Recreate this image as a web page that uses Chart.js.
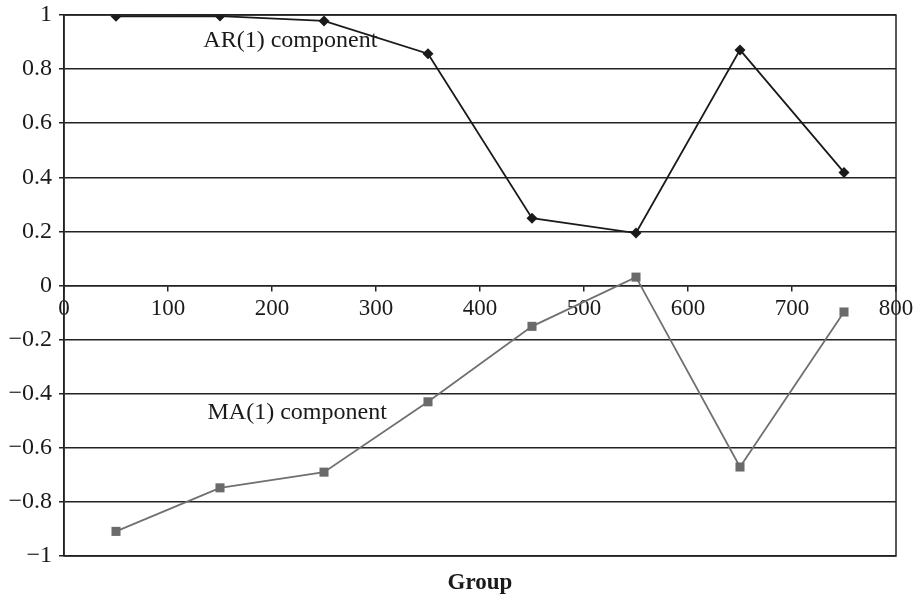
<!DOCTYPE html>
<html>
<head>
<meta charset="utf-8">
<script src="https://cdn.jsdelivr.net/npm/chart.js@4/dist/chart.umd.min.js"></script>
<style>
  html, body { margin: 0; padding: 0; background: #fff; }
  #wrap { width: 920px; height: 596px; }
</style>
</head>
<body>
<div id="wrap"><canvas id="c" width="920" height="596"></canvas></div>
<script>
// Group midpoints on the x axis
const groups = [50, 150, 250, 350, 450, 550, 650, 750];
// Estimated AR(1) and MA(1) components per group
const arComponent = [0.995, 0.996, 0.978, 0.857, 0.249, 0.194, 0.871, 0.418];
const maComponent = [-0.909, -0.748, -0.690, -0.430, -0.151, 0.031, -0.671, -0.098];

const xTickLabels = ['0', '100', '200', '300', '400', '500', '600', '700', '800'];
const yTickLabels = ['\u22121', '\u22120.8', '\u22120.6', '\u22120.4', '\u22120.2', '0', '0.2', '0.4', '0.6', '0.8', '1'];

// In-plot series labels: [text, x value, y value]
const seriesNotes = [
  ['AR(1) component', 134, 0.905],
  ['MA(1) component', 138, -0.47]
];
const xTitle = 'Group';

const FONT = '"Liberation Serif", "Times New Roman", serif';

const toPoints = (xs, ys) => xs.map((x, i) => ({ x: x, y: ys[i] }));

const frameAndNotes = {
  id: 'frameAndNotes',
  afterDraw(chart) {
    const { ctx, chartArea: a, scales } = chart;
    ctx.save();
    ctx.strokeStyle = '#222';
    ctx.lineWidth = 1.5;
    ctx.strokeRect(a.left, a.top, a.right - a.left, a.bottom - a.top);

    ctx.fillStyle = '#1a1a1a';
    ctx.font = '24px ' + FONT;
    ctx.textAlign = 'left';
    ctx.textBaseline = 'middle';
    seriesNotes.forEach(([t, xv, yv]) => {
      ctx.fillText(t, scales.x.getPixelForValue(xv), scales.y.getPixelForValue(yv));
    });

    ctx.font = 'bold 23px ' + FONT;
    ctx.textAlign = 'center';
    ctx.fillText(xTitle, (a.left + a.right) / 2, a.bottom + 27);
    ctx.restore();
  }
};

new Chart(document.getElementById('c'), {
  type: 'scatter',
  data: {
    datasets: [
      {
        label: 'AR(1) component',
        data: toPoints(groups, arComponent),
        showLine: true,
        borderColor: '#1a1a1a',
        backgroundColor: '#1a1a1a',
        borderWidth: 1.8,
        pointStyle: 'rectRot',
        pointRadius: 5.5,
        pointBorderWidth: 0
      },
      {
        label: 'MA(1) component',
        data: toPoints(groups, maComponent),
        showLine: true,
        borderColor: '#707070',
        backgroundColor: '#6a6a6a',
        borderWidth: 1.8,
        pointStyle: 'rect',
        pointRadius: 6.4,
        pointBorderWidth: 0
      }
    ]
  },
  options: {
    responsive: false,
    animation: false,
    devicePixelRatio: 1,
    layout: { padding: { left: 0, top: 15, right: 24, bottom: 40 } },
    plugins: {
      legend: { display: false },
      tooltip: { enabled: false }
    },
    scales: {
      x: {
        type: 'linear',
        min: 0,
        max: 800,
        position: { y: 0 },
        afterFit(scale) { scale.paddingLeft = 0; scale.paddingRight = 0; },
        ticks: {
          stepSize: 100,
          color: '#1a1a1a',
          font: { family: FONT, size: 23 },
          padding: 5,
          maxRotation: 0,
          callback: (v, i) => xTickLabels[i]
        },
        grid: {
          drawOnChartArea: false,
          drawTicks: true,
          tickLength: 5,
          color: '#222',
          lineWidth: 1.5
        },
        border: { display: true, color: '#222', width: 1.5 }
      },
      y: {
        type: 'linear',
        min: -1,
        max: 1,
        afterFit(scale) {
          scale.width = 64;
          scale.paddingTop = 0;
          scale.paddingBottom = 0;
        },
        ticks: {
          stepSize: 0.2,
          color: '#1a1a1a',
          font: { family: FONT, size: 24 },
          padding: 7,
          callback: (v, i) => yTickLabels[i]
        },
        grid: {
          color: '#222',
          lineWidth: 1.5,
          tickLength: 5
        },
        border: { display: true, color: '#222', width: 1.5 }
      }
    }
  },
  plugins: [frameAndNotes]
});
</script>
</body>
</html>
